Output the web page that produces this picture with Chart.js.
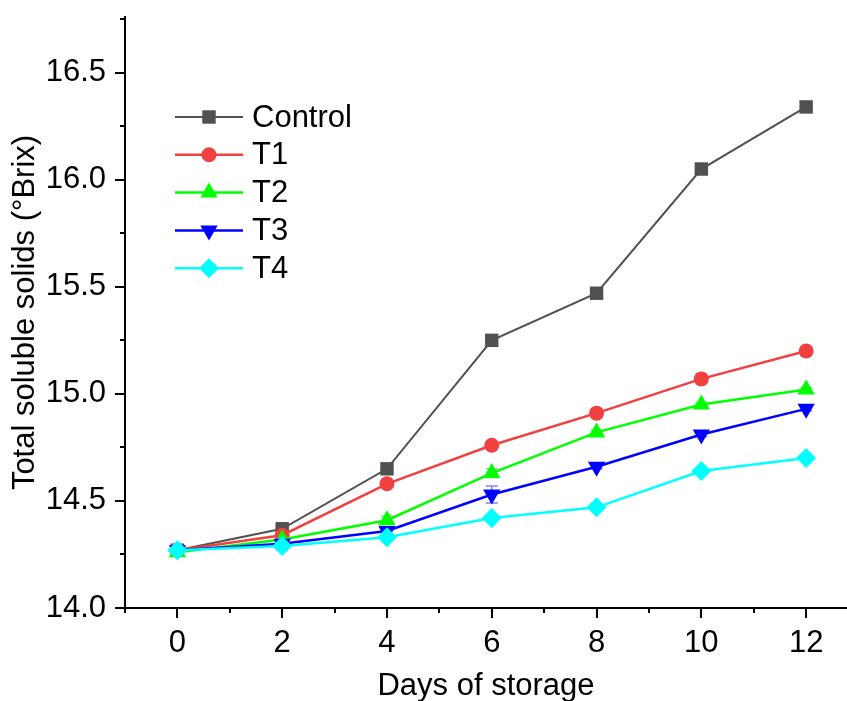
<!DOCTYPE html>
<html>
<head>
<meta charset="utf-8">
<script src="https://cdn.jsdelivr.net/npm/chart.js@4.4.0/dist/chart.umd.min.js"></script>
<style>
html,body{margin:0;padding:0;background:#fff;overflow:hidden;}
#wrap{width:847px;height:701px;position:relative;overflow:hidden;}
</style>
</head>
<body>
<div id="wrap"><canvas id="c" width="857" height="701"></canvas></div>
<script>
// ---- data ----
const days = [0, 2, 4, 6, 8, 10, 12];
const seriesNames = ["Control", "T1", "T2", "T3", "T4"];
const control = [14.27, 14.37, 14.65, 15.25, 15.47, 16.05, 16.34];
const t1 = [14.27, 14.34, 14.58, 14.76, 14.91, 15.07, 15.20];
const t2 = [14.26, 14.32, 14.41, 14.63, 14.82, 14.95, 15.02];
const t3 = [14.27, 14.30, 14.36, 14.53, 14.66, 14.81, 14.93];
const t4 = [14.27, 14.29, 14.33, 14.42, 14.47, 14.64, 14.70];
const errControl = [0.01, 0.01, 0.01, 0.01, 0.01, 0.01, 0.01];
const errT1 = [0.01, 0.01, 0.01, 0.01, 0.02, 0.02, 0.02];
const errT2 = [0.01, 0.01, 0.02, 0.02, 0.01, 0.01, 0.01];
const errT3 = [0.01, 0.02, 0.02, 0.04, 0.01, 0.01, 0.01];
const errT4 = [0.01, 0.02, 0.02, 0.01, 0.01, 0.01, 0.01];
const yTicks = [14.0, 14.5, 15.0, 15.5, 16.0, 16.5];
const yMinor = [14.25, 14.75, 15.25, 15.75, 16.25, 16.75];
const xMinor = [-1, 1, 3, 5, 7, 9, 11];

const FONT = "'Liberation Sans', Arial, sans-serif";
const FS = 31;

const styles = [
  {color: '#515151', err: 'rgba(81,81,81,0.5)', point: 'rect', r: 9.5, rot: 0, lw: 2},
  {color: '#F14040', err: 'rgba(241,64,64,0.5)', point: 'circle', r: 7.5, rot: 0, lw: 2.5},
  {color: '#00FF00', err: 'rgba(0,200,0,0.5)', point: 'triangle', r: 10, rot: 0, lw: 2.5},
  {color: '#0000FF', err: 'rgba(0,0,255,0.5)', point: 'triangle', r: 10, rot: 180, lw: 2.5},
  {color: '#00FFFF', err: 'rgba(0,200,220,0.6)', point: 'rectRot', r: 10, rot: 0, lw: 2.5}
];
const values = [control, t1, t2, t3, t4];
const errors = [errControl, errT1, errT2, errT3, errT4];

const datasets = values.map((vals, i) => ({
  label: seriesNames[i],
  data: days.map((d, j) => ({x: d, y: vals[j]})),
  borderColor: styles[i].color,
  backgroundColor: styles[i].color,
  pointBackgroundColor: styles[i].color,
  pointBorderColor: styles[i].color,
  pointBorderWidth: 0,
  pointStyle: styles[i].point,
  pointRadius: styles[i].r,
  pointRotation: styles[i].rot,
  borderWidth: styles[i].lw,
  tension: 0,
  order: 5 - i,
  errs: errors[i],
  errColor: styles[i].err
}));

function drawMarker(ctx, st, x, y) {
  const opts = {pointStyle: st.point, radius: st.r, rotation: st.rot, borderWidth: 0};
  ctx.save();
  ctx.fillStyle = st.color;
  ctx.strokeStyle = st.color;
  ctx.lineWidth = 0;
  if (Chart.helpers && Chart.helpers.drawPoint) {
    Chart.helpers.drawPoint(ctx, opts, x, y);
  } else {
    ctx.beginPath(); ctx.arc(x, y, st.r, 0, Math.PI * 2); ctx.fill();
  }
  ctx.restore();
}

const errorBars = {
  id: 'errorBars',
  beforeDatasetsDraw(chart) {
    const ctx = chart.ctx;
    const xs = chart.scales.x, ys = chart.scales.y;
    chart.data.datasets.forEach((ds) => {
      ctx.save();
      ctx.strokeStyle = ds.errColor;
      ctx.lineWidth = 1.5;
      ds.data.forEach((p, j) => {
        const e = ds.errs[j];
        const px = xs.getPixelForValue(p.x);
        const y1 = ys.getPixelForValue(p.y + e);
        const y2 = ys.getPixelForValue(p.y - e);
        ctx.beginPath();
        ctx.moveTo(px, y1); ctx.lineTo(px, y2);
        ctx.moveTo(px - 6, y1); ctx.lineTo(px + 6, y1);
        ctx.moveTo(px - 6, y2); ctx.lineTo(px + 6, y2);
        ctx.stroke();
      });
      ctx.restore();
    });
  }
};

const minorTicks = {
  id: 'minorTicks',
  afterDraw(chart) {
    const ctx = chart.ctx;
    const xs = chart.scales.x, ys = chart.scales.y;
    const ca = chart.chartArea;
    ctx.save();
    ctx.strokeStyle = '#000';
    ctx.lineWidth = 2;
    ctx.beginPath();
    yMinor.forEach(v => {
      const py = Math.round(ys.getPixelForValue(v));
      ctx.moveTo(ca.left - 5, py); ctx.lineTo(ca.left, py);
    });
    xMinor.forEach(v => {
      const px = Math.round(xs.getPixelForValue(v));
      ctx.moveTo(px, ca.bottom); ctx.lineTo(px, ca.bottom + 5);
    });
    ctx.stroke();
    ctx.restore();
  }
};

const customLegend = {
  id: 'customLegend',
  afterDraw(chart, args, o) {
    const ctx = chart.ctx;
    ctx.save();
    ctx.font = FS + 'px ' + FONT;
    ctx.textBaseline = 'middle';
    ctx.textAlign = 'left';
    seriesNames.forEach((name, i) => {
      const y = o.y0 + i * o.dy;
      const st = styles[i];
      ctx.strokeStyle = st.color;
      ctx.lineWidth = st.lw;
      ctx.beginPath();
      ctx.moveTo(o.x0, y); ctx.lineTo(o.x1, y);
      ctx.stroke();
      drawMarker(ctx, st, (o.x0 + o.x1) / 2, y);
      ctx.fillStyle = '#000';
      ctx.fillText(name, o.tx, y + 1);
    });
    ctx.restore();
  }
};

new Chart(document.getElementById('c'), {
  type: 'line',
  data: {datasets},
  plugins: [errorBars, minorTicks, customLegend],
  options: {
    responsive: false,
    animation: false,
    devicePixelRatio: 1,
    layout: {padding: {top: 17, right: 0, left: 0, bottom: 0}},
    plugins: {
      legend: {display: false},
      tooltip: {enabled: false},
      customLegend: {x0: 175, x1: 243, tx: 252, y0: 117, dy: 37.8}
    },
    scales: {
      x: {
        type: 'linear',
        min: -1,
        max: 12.78,
        afterBuildTicks(scale) { scale.ticks = days.map(v => ({value: v})); },
        afterFit(scale) { scale.height = 93; scale.paddingLeft = 0; scale.paddingRight = 0; },
        grid: {drawOnChartArea: false, drawTicks: true, tickLength: 10, color: '#000', lineWidth: 2, tickWidth: 2},
        border: {display: true, color: '#000', width: 2},
        ticks: {color: '#000', font: {family: FONT, size: FS}, padding: 7, maxRotation: 0, callback: v => String(v)},
        title: {display: true, text: 'Days of storage', color: '#000', font: {family: FONT, size: FS}, padding: {top: 0, bottom: -4}}
      },
      y: {
        type: 'linear',
        min: 14.0,
        max: 16.76,
        afterBuildTicks(scale) { scale.ticks = yTicks.map(v => ({value: v})); },
        afterFit(scale) { scale.width = 125; scale.paddingTop = 0; scale.paddingBottom = 0; },
        grid: {drawOnChartArea: false, drawTicks: true, tickLength: 10, color: '#000', lineWidth: 2, tickWidth: 2},
        border: {display: true, color: '#000', width: 2},
        ticks: {color: '#000', font: {family: FONT, size: FS}, padding: 9, callback: v => Number(v).toFixed(1)},
        title: {display: true, text: 'Total soluble solids (°Brix)', color: '#000', font: {family: FONT, size: FS}, padding: {top: 7, bottom: 0}}
      }
    }
  }
});
</script>
</body>
</html>
